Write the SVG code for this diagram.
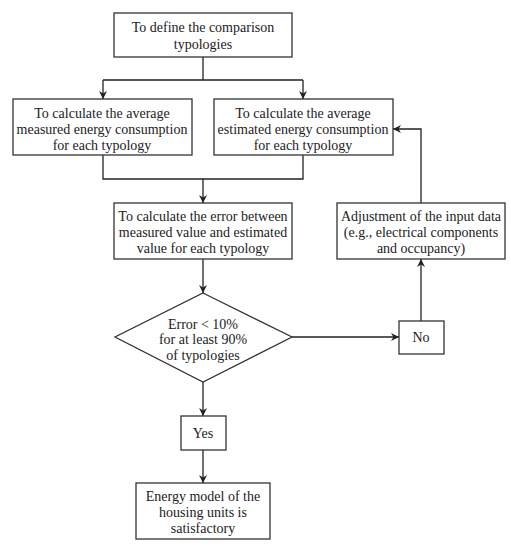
<svg xmlns="http://www.w3.org/2000/svg" width="511" height="550" viewBox="0 0 511 550">
<defs>
<marker id="ah" viewBox="0 0 10 10" refX="10" refY="5" markerWidth="8" markerHeight="8" markerUnits="userSpaceOnUse" orient="auto">
<path d="M0,0 L10,5 L0,10 L3,5 Z" fill="#222"/>
</marker>
</defs>
<style>
.box{fill:#fff;stroke:#333;stroke-width:1.3}
.ln{fill:none;stroke:#222;stroke-width:1.3}
text{font-family:"Liberation Serif","Times New Roman",serif;font-size:14px;fill:#222;text-anchor:middle}
</style>
<rect width="511" height="550" fill="#fff"/>
<g id="connectors">
<path class="ln" d="M203,57 V80"/>
<path class="ln" d="M103,80 H303"/>
<path class="ln" d="M103,80 V99" marker-end="url(#ah)"/>
<path class="ln" d="M303,80 V99" marker-end="url(#ah)"/>
<path class="ln" d="M103,155 V179 H303 V155"/>
<path class="ln" d="M203,179 V203" marker-end="url(#ah)"/>
<path class="ln" d="M203,259 V293" marker-end="url(#ah)"/>
<path class="ln" d="M292,337 H399" marker-end="url(#ah)"/>
<path class="ln" d="M421,321 V259" marker-end="url(#ah)"/>
<path class="ln" d="M421,203 V129 H393" marker-end="url(#ah)"/>
<path class="ln" d="M203,382 V416" marker-end="url(#ah)"/>
<path class="ln" d="M203,450 V483" marker-end="url(#ah)"/>
</g>
<g id="n1">
<rect class="box" x="114" y="13" width="178" height="44"/>
<text x="203" y="32">To define the comparison</text>
<text x="203" y="49">typologies</text>
</g>
<g id="n2">
<rect class="box" x="13" y="99" width="179" height="56"/>
<text x="102" y="118">To calculate the average</text>
<text x="102" y="134">measured energy consumption</text>
<text x="102" y="150">for each typology</text>
</g>
<g id="n3">
<rect class="box" x="214" y="99" width="179" height="56"/>
<text x="303" y="118">To calculate the average</text>
<text x="303" y="134">estimated energy consumption</text>
<text x="303" y="150">for each typology</text>
</g>
<g id="n4">
<rect class="box" x="114" y="203" width="178" height="56"/>
<text x="203" y="221">To calculate the error between</text>
<text x="203" y="237">measured value and estimated</text>
<text x="203" y="253">value for each typology</text>
</g>
<g id="n5">
<rect class="box" x="337" y="203" width="168" height="56"/>
<text x="421" y="221">Adjustment of the input data</text>
<text x="421" y="237">(e.g., electrical components</text>
<text x="421" y="253">and occupancy)</text>
</g>
<g id="n6">
<polygon class="box" points="203,293 292,337 203,382 115,337"/>
<text x="203" y="329">Error &lt; 10%</text>
<text x="203" y="344">for at least 90%</text>
<text x="203" y="360">of typologies</text>
</g>
<g id="n7">
<rect class="box" x="399" y="321" width="45" height="33"/>
<text x="421" y="342">No</text>
</g>
<g id="n8">
<rect class="box" x="181" y="416" width="45" height="34"/>
<text x="203" y="438">Yes</text>
</g>
<g id="n9">
<rect class="box" x="136" y="483" width="134" height="56"/>
<text x="203" y="501">Energy model of the</text>
<text x="203" y="517">housing units is</text>
<text x="203" y="533">satisfactory</text>
</g>
</svg>
